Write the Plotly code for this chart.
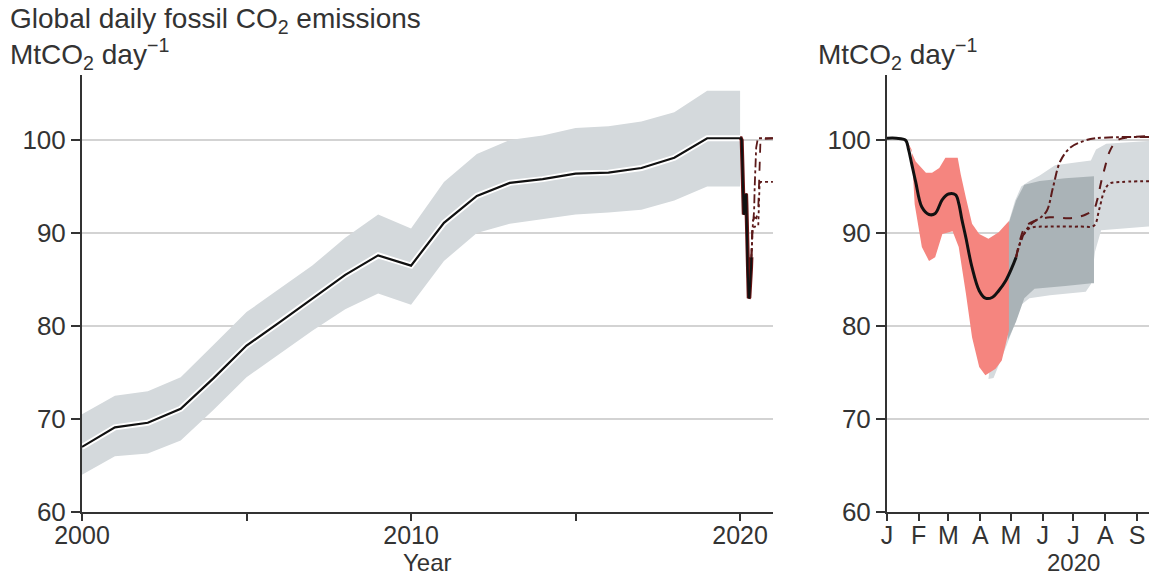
import plotly.graph_objects as go

# ---------------- data ----------------
years = list(range(2000, 2021))
central_year = [67.0, 69.1, 69.6, 71.1, 74.4, 77.9, 80.4, 83.0, 85.5, 87.6, 86.5,
                91.1, 94.0, 95.4, 95.8, 96.4, 96.5, 97.0, 98.1, 100.2, 100.2]
upper_year = [70.5, 72.5, 73.0, 74.5, 78.0, 81.5, 84.0, 86.5, 89.5, 92.0, 90.5,
              95.5, 98.5, 100.0, 100.5, 101.3, 101.5, 102.0, 103.0, 105.3, 105.3]
lower_year = [64.0, 66.0, 66.3, 67.7, 71.0, 74.5, 77.0, 79.5, 81.8, 83.5, 82.3,
              87.0, 90.0, 91.0, 91.5, 92.0, 92.2, 92.5, 93.5, 95.0, 95.0]

# 2020 daily (day of year)
daily_days = [1, 10, 19, 22, 25, 29, 35, 42, 48, 55, 61, 68, 71, 74, 78, 84, 91, 97, 104, 110, 117, 123, 127]
daily_vals = [100.2, 100.2, 100.0, 99.0, 97.5, 95.5, 92.8, 92.0, 92.1, 93.6, 94.2, 94.1, 93.2, 91.5,
              89.5, 86.3, 83.8, 83.0, 83.1, 83.8, 84.9, 86.3, 87.4]

red_up_days = [19, 22, 29, 39, 45, 52, 58, 70, 73, 78, 84, 91, 100, 110, 120]
red_up_vals = [100.2, 99.4, 97.7, 96.5, 96.5, 97.0, 98.1, 98.1, 96.3, 93.8, 91.0, 89.9, 89.4, 90.1, 91.3]
red_lo_days = [19, 25, 28, 35, 42, 48, 55, 65, 71, 78, 84, 91, 97, 107, 113, 118, 120]
red_lo_vals = [100.2, 99.0, 93.1, 88.5, 87.0, 87.4, 89.9, 90.2, 88.5, 83.5, 78.8, 75.6, 74.7, 75.4, 76.3, 78.5, 79.5]

env_up_days = [118, 126, 132, 140, 150, 165, 185, 200, 205, 215, 256, 366]
env_up_vals = [90.5, 93.5, 95.0, 95.6, 96.2, 97.3, 97.6, 97.8, 99.0, 99.6, 99.9, 99.9]
env_lo_days = [100, 105, 118, 125, 132, 140, 160, 195, 200, 204, 210, 256, 366]
env_lo_vals = [74.3, 74.4, 78.0, 80.0, 82.3, 83.0, 83.3, 83.7, 84.5, 88.0, 90.3, 90.7, 90.7]

core_up_days = [119, 127, 135, 150, 175, 201, 203]
core_up_vals = [90.8, 93.5, 95.2, 95.6, 95.9, 96.1, 96.1]
core_lo_days = [119, 127, 135, 145, 175, 201, 203]
core_lo_vals = [78.5, 80.5, 83.0, 84.0, 84.3, 84.6, 84.6]

scenA_days = [127, 131, 136, 145, 160, 180, 195, 203, 206, 210, 214, 218, 222, 228, 366]
scenA_vals = [87.4, 89.3, 90.7, 91.3, 91.7, 91.6, 92.0, 92.6, 93.5, 95.5, 97.2, 98.7, 99.5, 100.1, 100.2]
scenB_days = [127, 132, 138, 144, 150, 157, 163, 170, 180, 193, 205, 366]
scenB_vals = [87.4, 89.3, 90.5, 91.2, 91.6, 92.4, 94.9, 97.7, 99.2, 99.9, 100.2, 100.2]
scenC_days = [127, 133, 140, 160, 190, 203, 208, 213, 218, 230, 366]
scenC_vals = [87.4, 89.5, 90.5, 90.7, 90.7, 90.8, 92.5, 94.5, 95.3, 95.5, 95.5]

month_days = [1, 32, 61, 92, 122, 153, 183, 214, 245]
month_labels = ["J", "F", "M", "A", "M", "J", "J", "A", "S"]
y_ticks = [60, 70, 80, 90, 100]

# ---------------- style ----------------
W, H = 1149, 577
FONT = "Liberation Sans, Arial, sans-serif"
TXT = "#333333"
BAND = "#d4d9dc"
ENV = "#d6dbde"
CORE = "#aab3b7"
RED = "#f5857f"
LINE = "#111111"
SCEN = "#5c1a1a"


def to_year(days):
    return [2020 + (d - 1) / 366 for d in days]


def poly(xu, yu, xl, yl):
    return list(xu) + list(xl)[::-1], list(yu) + list(yl)[::-1]


fig = go.Figure()

# ---- left panel ----
px_, py_ = poly(years, upper_year, years, lower_year)
fig.add_trace(go.Scatter(x=px_, y=py_, fill="toself", fillcolor=BAND, line=dict(width=0),
                         mode="lines", hoverinfo="skip", xaxis="x", yaxis="y"))
fig.add_trace(go.Scatter(x=years, y=central_year, mode="lines", line=dict(color="white", width=6),
                         hoverinfo="skip", xaxis="x", yaxis="y"))
fig.add_trace(go.Scatter(x=years, y=central_year, mode="lines", line=dict(color=LINE, width=2.2),
                         xaxis="x", yaxis="y"))
for d, v, dash in [(scenA_days, scenA_vals, "dash"), (scenB_days, scenB_vals, "dashdot"),
                   (scenC_days, scenC_vals, "dot")]:
    fig.add_trace(go.Scatter(x=to_year(d), y=v, mode="lines",
                             line=dict(color=SCEN, width=1.8, dash=dash), xaxis="x", yaxis="y"))
fig.add_trace(go.Scatter(x=to_year(daily_days), y=daily_vals, mode="lines",
                         line=dict(color="#6b1414", width=4), xaxis="x", yaxis="y"))
fig.add_trace(go.Scatter(x=to_year(daily_days), y=daily_vals, mode="lines",
                         line=dict(color=LINE, width=2), xaxis="x", yaxis="y"))

# ---- right panel ----
px_, py_ = poly(env_up_days, env_up_vals, env_lo_days, env_lo_vals)
fig.add_trace(go.Scatter(x=px_, y=py_, fill="toself", fillcolor=ENV, line=dict(width=0),
                         mode="lines", hoverinfo="skip", xaxis="x2", yaxis="y2"))
px_, py_ = poly(core_up_days, core_up_vals, core_lo_days, core_lo_vals)
fig.add_trace(go.Scatter(x=px_, y=py_, fill="toself", fillcolor=CORE, line=dict(width=0),
                         mode="lines", hoverinfo="skip", xaxis="x2", yaxis="y2"))
px_, py_ = poly(red_up_days, red_up_vals, red_lo_days, red_lo_vals)
fig.add_trace(go.Scatter(x=px_, y=py_, fill="toself", fillcolor=RED, line=dict(width=0),
                         mode="lines", hoverinfo="skip", xaxis="x2", yaxis="y2"))
fig.add_trace(go.Scatter(x=daily_days, y=daily_vals, mode="lines", line=dict(color=LINE, width=3, shape="spline"),
                         xaxis="x2", yaxis="y2"))
for d, v, dash in [(scenA_days, scenA_vals, "dash"), (scenB_days, scenB_vals, "dashdot"),
                   (scenC_days, scenC_vals, "dot")]:
    fig.add_trace(go.Scatter(x=d, y=v, mode="lines",
                             line=dict(color=SCEN, width=2, dash=dash, shape="spline"), xaxis="x2", yaxis="y2"))

ydom = [1 - 512 / H, 1 - 75 / H]
common_y = dict(range=[60, 107], tickvals=y_ticks, showgrid=True, gridcolor="#d3d3d3", gridwidth=2,
                zeroline=False, showline=True, linecolor="#333333", linewidth=2, automargin=False,
                ticks="outside", ticklen=9, tickcolor="#333333", tickwidth=1.5,
                tickfont=dict(family=FONT, size=26, color=TXT), domain=ydom)
common_x = dict(showgrid=False, zeroline=False, showline=True, linecolor="#333333", linewidth=2,
                ticks="outside", ticklen=7, tickcolor="#333333", tickwidth=1.5, automargin=False,
                ticklabelstandoff=-7,
                tickfont=dict(family=FONT, size=25, color=TXT))

fig.update_layout(
    width=W, height=H, margin=dict(l=0, r=0, t=0, b=0, autoexpand=False),
    paper_bgcolor="white", plot_bgcolor="white", showlegend=False,
    xaxis=dict(common_x, range=[2000, 2021], domain=[82 / W, 773 / W],
               tickvals=[2000, 2005, 2010, 2015, 2020], ticktext=["2000", "", "2010", "", "2020"]),
    yaxis=dict(common_y, anchor="x"),
    xaxis2=dict(common_x, range=[1, 256.7], domain=[887 / W, 1.0],
                tickvals=month_days, ticktext=month_labels, anchor="y2"),
    yaxis2=dict(common_y, anchor="x2"),
)

ann_font = dict(family=FONT, size=28, color=TXT)
fig.add_annotation(text="Global daily fossil CO<sub>2</sub> emissions", xref="paper", yref="paper",
                   x=8 / W, y=1 - 20 / H, xanchor="left", yanchor="middle", showarrow=False, font=ann_font)
fig.add_annotation(text="MtCO<sub>2</sub> day<sup>−1</sup>", xref="paper", yref="paper",
                   x=8 / W, y=1 - 54 / H, xanchor="left", yanchor="middle", showarrow=False, font=ann_font)
fig.add_annotation(text="MtCO<sub>2</sub> day<sup>−1</sup>", xref="paper", yref="paper",
                   x=816 / W, y=1 - 54 / H, xanchor="left", yanchor="middle", showarrow=False, font=ann_font)
fig.add_annotation(text="Year", xref="paper", yref="paper",
                   x=427 / W, y=1 - 562 / H, xanchor="center", yanchor="middle", showarrow=False,
                   font=dict(family=FONT, size=24, color=TXT))
fig.add_annotation(text="2020", xref="paper", yref="paper",
                   x=1073 / W, y=1 - 562 / H, xanchor="center", yanchor="middle", showarrow=False,
                   font=dict(family=FONT, size=24, color=TXT))

fig.write_html("out.html", config={"displayModeBar": False},
               post_script="document.body.style.margin='0px';document.body.style.overflow='hidden';")
